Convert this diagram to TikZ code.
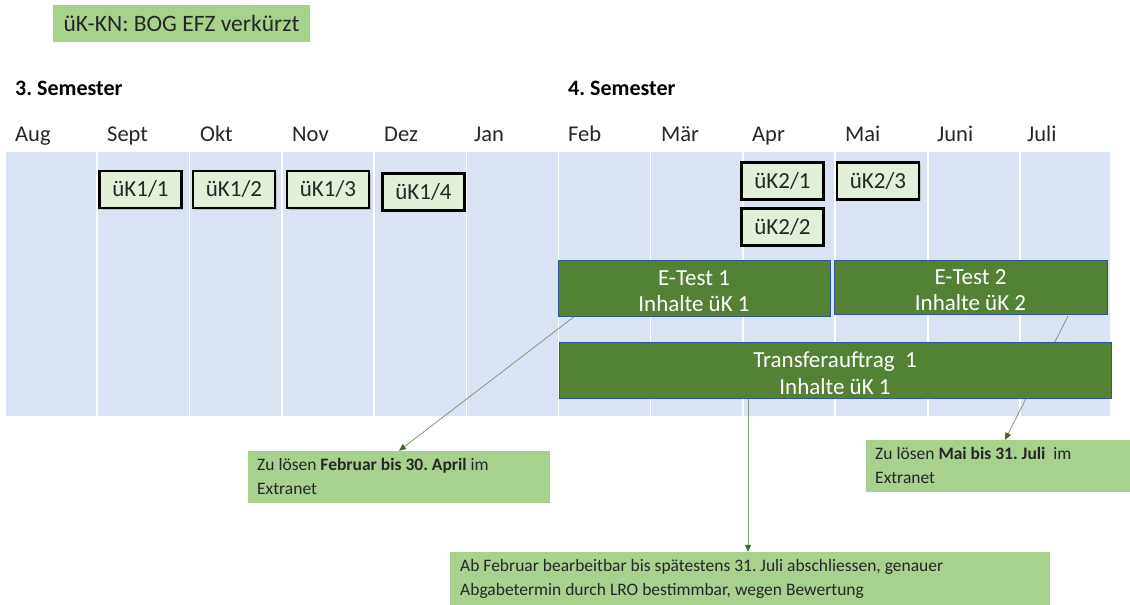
\documentclass[tikz,border=0pt]{standalone}
\usepackage{fontspec}
\setmainfont{Carlito}
\usetikzlibrary{arrows.meta,calc,shadows}
\definecolor{band}{HTML}{DAE3F3}
\definecolor{lgreen}{HTML}{A9D18E}
\definecolor{pgreen}{HTML}{E2F0D9}
\definecolor{dgreen}{HTML}{548235}
\definecolor{bblue}{HTML}{2F5597}
\definecolor{lineg}{HTML}{7F9A72}
\definecolor{tipg}{HTML}{3E6B2C}
\frenchspacing
\tikzset{
  month/.style={anchor=base west,font=\fontsize{22.5}{24}\selectfont,text=black!85,inner sep=0},
  sem/.style={anchor=base west,font=\fontsize{22}{24}\selectfont\bfseries,inner sep=0},
  ukbox/.style={draw=black,line width=2.6pt,fill=pgreen,minimum width=82pt,minimum height=37pt,inner sep=0,
     font=\fontsize{23}{24}\selectfont,text=black!85,drop shadow={opacity=0.35,shadow xshift=1.5pt,shadow yshift=-1.5pt}},
  bar/.style={draw=bblue,line width=0.8pt,fill=dgreen,inner sep=0},
  bartext/.style={text=white,inner sep=0,align=center,font=\fontsize{23}{26.5}\selectfont},
  callout/.style={fill=lgreen,inner sep=0},
  ctext/.style={anchor=north west,align=left,inner sep=0,font=\fontsize{17.5}{24}\selectfont,text=black!85},
  conn/.style={draw=lineg,line width=0.8pt,-{Triangle[length=7pt,width=6pt,fill=tipg,color=tipg]}}
}
\begin{document}
\begin{tikzpicture}[x=1pt,y=-1pt]
\useasboundingbox (0,0) rectangle (1130,605);
% title
\node[fill=lgreen,minimum width=257pt,minimum height=37pt,inner sep=0,font=\fontsize{23.5}{25}\selectfont,text=black!85] (title) at (181.5,23.5) {üK-KN: BOG EFZ verkürzt};
% semesters
\node[sem] (s3) at (15,95) {3. Semester};
\node[sem] (s4) at (568,95) {4. Semester};
% months
\foreach \m/\x/\n in {Aug/15/m1,Sept/107/m2,Okt/200/m3,Nov/292/m4,Dez/384/m5,Jan/474/m6,Feb/568/m7,Mär/661/m8,Apr/752/m9,Mai/845/m10,Juni/937/m11,Juli/1027/m12}
  \node[month] (\n) at (\x,141) {\m};
% band
\fill[band] (6,152) rectangle (1110,416);
\foreach \x in {97,189.5,282,374,466.5,558.5,650.5,743,835,928,1020}
  \draw[white,line width=1.2pt] (\x,152) -- (\x,416);
% uK boxes
\node[ukbox] (u11) at (140.5,189.5) {üK1/1};
\node[ukbox] (u12) at (234,189.5) {üK1/2};
\node[ukbox] (u13) at (328,189.5) {üK1/3};
\node[ukbox] (u14) at (423.5,192) {üK1/4};
\node[ukbox] (u21) at (782.5,181) {üK2/1};
\node[ukbox] (u22) at (782.5,227) {üK2/2};
\node[ukbox] (u23) at (878,181) {üK2/3};
% callouts
\node[callout,minimum width=302pt,minimum height=52pt] (ca) at (399,477) {};
\node[ctext] (cat) at (257,458) {Zu lösen \textbf{Februar bis 30. April} im\\Extranet};
\node[callout,minimum width=264pt,minimum height=52pt] (cb) at (998,466) {};
\node[ctext] (cbt) at (875,447) {Zu lösen \textbf{Mai bis 31. Juli}\ \ im\\Extranet};
\node[callout,minimum width=600pt,minimum height=53pt] (cc) at (750,578.5) {};
\node[ctext] (cct) at (460,559) {Ab Februar bearbeitbar\ bis spätestens 31. Juli abschliessen,\ genauer\\Abgabetermin durch LRO bestimmbar, wegen Bewertung};
% connector start points on bar edges
\coordinate (e1s) at (575,316);
\coordinate (e2s) at (1068,316);
\coordinate (trs) at (748,398);
\draw[conn] (e1s) -- (ca.north);
\draw[conn] (e2s) -- ($(cb.north)+(7,0)$);
\draw[conn] (trs) -- ($(cc.north)+(-2,0)$);
% bars
\node[bar,minimum width=272pt,minimum height=56pt] (et1) at (694,288) {};
\node[bartext] (et1t) at (694,291) {E-Test 1\\Inhalte üK 1};
\node[bar,minimum width=273pt,minimum height=54pt] (et2) at (970.5,287) {};
\node[bartext] (et2t) at (970.5,290) {E-Test 2\\Inhalte üK 2};
\node[bar,minimum width=552pt,minimum height=56pt] (tr) at (835,370) {};
\node[bartext] (trt) at (835,373) {Transferauftrag\ \ 1\\Inhalte üK 1};
\end{tikzpicture}
\end{document}
